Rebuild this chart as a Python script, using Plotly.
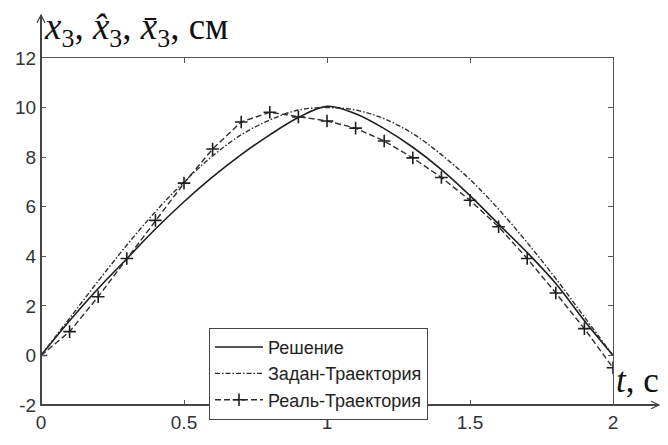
import plotly.graph_objects as go

# ---- data ----
t = [0.0, 0.1, 0.2, 0.3, 0.4, 0.5, 0.6, 0.7, 0.8, 0.9, 1.0,
     1.1, 1.2, 1.3, 1.4, 1.5, 1.6, 1.7, 1.8, 1.9, 2.0]
reshenie = [0.0, 1.4, 2.7, 3.9, 5.1, 6.2, 7.2, 8.1, 8.9, 9.6, 10.05,
            9.75, 9.15, 8.4, 7.5, 6.45, 5.3, 4.15, 2.9, 1.4, 0.0]
zadan = [0.0, 1.5, 3.0, 4.45, 5.8, 7.0, 8.05, 8.9, 9.5, 9.9, 10.0,
         9.9, 9.55, 8.95, 8.1, 7.1, 5.9, 4.55, 3.1, 1.55, 0.0]
real = [0.0, 0.96, 2.37, 3.91, 5.45, 6.95, 8.33, 9.42, 9.81, 9.62, 9.46,
        9.17, 8.65, 7.97, 7.18, 6.26, 5.19, 3.91, 2.52, 1.08, -0.5]

names = ["Решение", "Задан-Траектория", "Реаль-Траектория"]
x_ticks = [0, 0.5, 1, 1.5, 2]
x_ticklabels = ["0", "0.5", "1", "1.5", "2"]
y_ticks = [-2, 0, 2, 4, 6, 8, 10, 12]
y_ticklabels = ["-2", "0", "2", "4", "6", "8", "10", "12"]

# ---- layout geometry ----
W, H = 668, 445
ML, MR, MT, MB = 41, 55, 58, 23
PW, PH = W - ML - MR, H - MT - MB


def px(xp):
    return (xp - ML) / PW


def py(yp):
    return (H - MB - yp) / PH


fig = go.Figure()
fig.add_trace(go.Scatter(x=t, y=reshenie, name=names[0], mode="lines",
                         line=dict(color="#1e1e1e", width=1.6, shape="spline")))
fig.add_trace(go.Scatter(x=t, y=zadan, name=names[1], mode="lines",
                         line=dict(color="#2e2e2e", width=1.4, shape="spline",
                                   dash="5px,2px,1.5px,2px")))
fig.add_trace(go.Scatter(x=t, y=real, name=names[2], mode="lines+markers",
                         line=dict(color="#2e2e2e", width=1.4, dash="6px,3px"),
                         marker=dict(symbol="cross-thin", size=9,
                                     line=dict(color="#1e1e1e", width=1.6))))

axis_common = dict(showline=True, mirror="ticks", linecolor="#555555", linewidth=1.3,
                   ticks="inside", ticklen=5, tickcolor="#555555", showgrid=False,
                   zeroline=False,
                   tickfont=dict(family="Liberation Sans, Arial", size=19, color="#333333"))

fig.update_layout(
    width=W, height=H,
    margin=dict(l=ML, r=MR, t=MT, b=MB, pad=0),
    paper_bgcolor="white", plot_bgcolor="white",
    xaxis=dict(range=[0, 2], tickvals=x_ticks, ticktext=x_ticklabels, **axis_common),
    yaxis=dict(range=[-2, 12], tickvals=y_ticks, ticktext=y_ticklabels, **axis_common),
    legend=dict(x=px(209), y=py(341), xanchor="left", yanchor="top",
                bgcolor="white", bordercolor="#444444", borderwidth=1,
                font=dict(family="Liberation Sans, Arial", size=18, color="#222222"),
                itemwidth=48, tracegroupgap=0),
    showlegend=True,
)

# axes with arrows (left and bottom, extending beyond the frame)
ax_col = "#444444"
fig.add_shape(type="line", xref="paper", yref="paper",
              x0=0, y0=0, x1=0, y1=py(13), line=dict(color=ax_col, width=2))
fig.add_shape(type="path", xref="paper", yref="paper",
              path=f"M {px(ML-4)} {py(21)} L {px(ML)} {py(13)} L {px(ML+4)} {py(21)}",
              line=dict(color=ax_col, width=1.2))
fig.add_shape(type="line", xref="paper", yref="paper",
              x0=0, y0=0, x1=px(659), y1=0, line=dict(color=ax_col, width=2))
fig.add_shape(type="path", xref="paper", yref="paper",
              path=f"M {px(651)} {py(418)} L {px(659)} {py(422)} L {px(651)} {py(426)}",
              line=dict(color=ax_col, width=1.2))

# axis titles
serif = "Liberation Serif"
fig.add_annotation(xref="paper", yref="paper", x=px(42), y=py(28),
                   xanchor="left", yanchor="middle", showarrow=False,
                   text="<i>x</i><sub>3</sub>, <i>x\u0302</i><sub>3</sub>, <i>x\u0304</i><sub>3</sub>, см",
                   font=dict(family=serif, size=37, color="#111111"))
fig.add_annotation(xref="paper", yref="paper", x=px(614), y=py(396),
                   xanchor="left", yanchor="middle", showarrow=False,
                   text="<i>t</i>, c",
                   font=dict(family=serif, size=35, color="#111111"))

fig.write_html("out.html")
